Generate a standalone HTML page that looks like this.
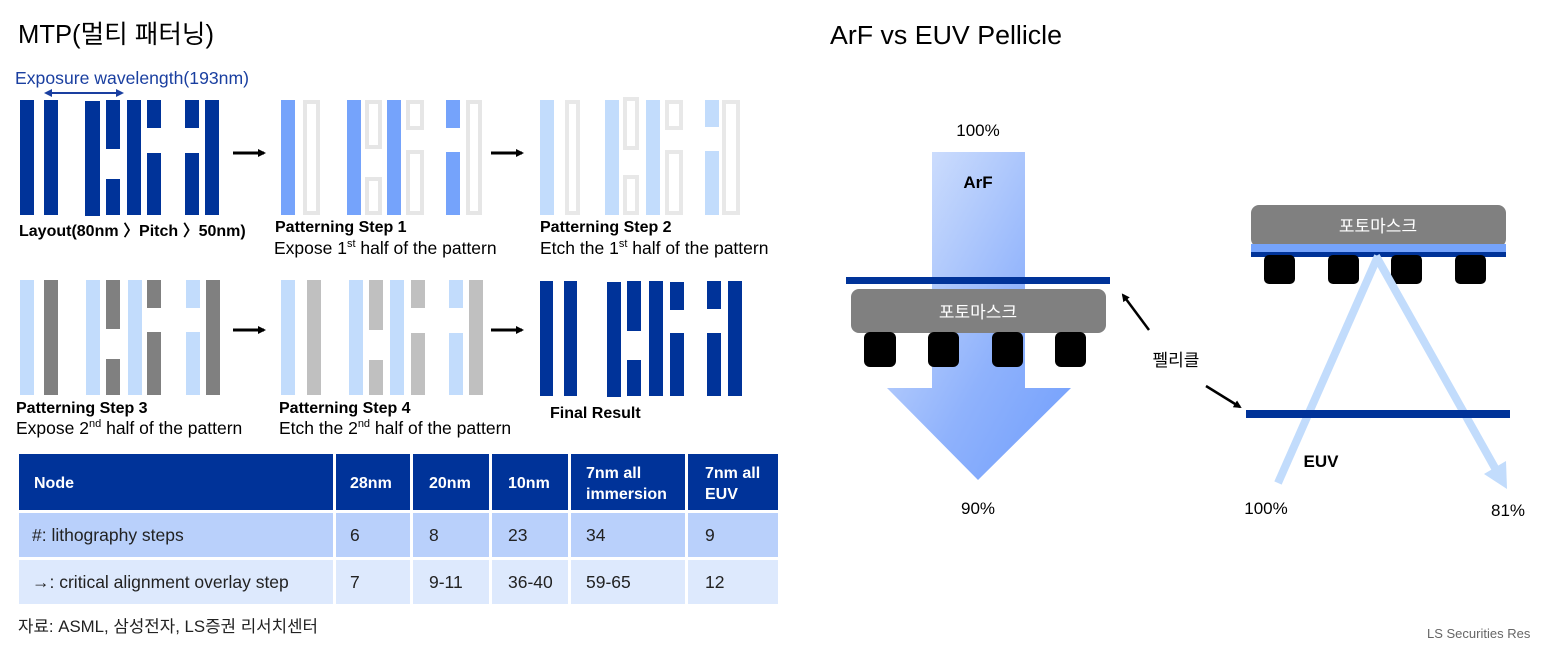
<!DOCTYPE html>
<html><head><meta charset="utf-8"><style>
html,body{margin:0;padding:0;background:#fff;width:1542px;height:654px;overflow:hidden}
svg{display:block;font-family:"Liberation Sans","Noto Sans CJK KR",sans-serif}
</style></head><body>
<svg width="1542" height="654" viewBox="0 0 1542 654" xmlns="http://www.w3.org/2000/svg">
<defs>
<linearGradient id="g1" x1="0" y1="0" x2="1" y2="1">
<stop offset="0" stop-color="#dbe7fd"/><stop offset="0.6" stop-color="#8fb2fc"/><stop offset="1" stop-color="#6f9dfc"/>
</linearGradient>
<marker id="ah" markerWidth="8" markerHeight="8" refX="6" refY="4" orient="auto" markerUnits="userSpaceOnUse"><path d="M0,0 L8,4 L0,8 z" fill="#000"/></marker>
</defs>
<text x="18" y="43" font-size="25.5" fill="#000" textLength="196" lengthAdjust="spacingAndGlyphs">MTP(멀티 패터닝)</text>
<text x="830" y="44" font-size="25.5" fill="#000" textLength="232" lengthAdjust="spacingAndGlyphs">ArF vs EUV Pellicle</text>
<text x="15" y="84" font-size="17.5" fill="#1a3fa0" textLength="234" lengthAdjust="spacingAndGlyphs">Exposure wavelength(193nm)</text>
<line x1="48" y1="93" x2="120" y2="93" stroke="#1a3fa0" stroke-width="2"/>
<path d="M44,93 L52,89 L52,97z M124,93 L116,89 L116,97z" fill="#1a3fa0"/>
<!-- Layout -->
<g fill="#003399">
<rect x="20" y="100" width="14" height="115"/><rect x="44" y="100" width="14" height="115"/>
<rect x="85" y="101" width="15" height="115"/>
<rect x="106" y="100" width="14" height="49"/><rect x="106" y="179" width="14" height="36"/>
<rect x="127" y="100" width="14" height="115"/>
<rect x="147" y="100" width="14" height="28"/><rect x="147" y="153" width="14" height="62"/>
<rect x="185" y="100" width="14" height="28"/><rect x="185" y="153" width="14" height="62"/>
<rect x="205" y="100" width="14" height="115"/>
</g>
<text x="19" y="236" font-size="16" font-weight="bold">Layout(80nm 〉Pitch 〉50nm)</text>
<g stroke="#000" stroke-width="3" marker-end="url(#ah)">
<line x1="233" y1="153" x2="264" y2="153"/><line x1="491" y1="153" x2="522" y2="153"/>
<line x1="233" y1="330" x2="264" y2="330"/><line x1="491" y1="330" x2="522" y2="330"/>
</g>
<!-- Step1 -->
<g fill="#75a3fb">
<rect x="281" y="100" width="14" height="115"/><rect x="347" y="100" width="14" height="115"/>
<rect x="387" y="100" width="14" height="115"/>
<rect x="446" y="100" width="14" height="28"/><rect x="446" y="152" width="14" height="63"/>
</g>
<g fill="none" stroke="#e6e6e6" stroke-width="4">
<rect x="305" y="102" width="13" height="111"/>
<rect x="367" y="102" width="13" height="45"/><rect x="367" y="179" width="13" height="34"/>
<rect x="408" y="102" width="14" height="26"/><rect x="408" y="152" width="14" height="61"/>
<rect x="468" y="102" width="12" height="111"/>
</g>
<text x="275" y="232" font-size="16" font-weight="bold">Patterning Step 1</text>
<text x="274" y="254" font-size="17.5">Expose 1<tspan font-size="11" dy="-7">st</tspan><tspan dy="7"> half of the pattern</tspan></text>
<!-- Step2 -->
<g fill="#c2dcfc">
<rect x="540" y="100" width="14" height="115"/><rect x="605" y="100" width="14" height="115"/>
<rect x="646" y="100" width="14" height="115"/>
<rect x="705" y="100" width="14" height="27"/><rect x="705" y="151" width="14" height="64"/>
</g>
<g fill="none" stroke="#e8e8e8" stroke-width="4">
<rect x="567" y="102" width="11" height="111"/>
<rect x="625" y="99" width="12" height="49"/><rect x="625" y="177" width="12" height="36"/>
<rect x="667" y="102" width="14" height="26"/><rect x="667" y="152" width="14" height="61"/>
<rect x="724" y="102" width="14" height="111"/>
</g>
<text x="540" y="232" font-size="16" font-weight="bold">Patterning Step 2</text>
<text x="540" y="254" font-size="17.5">Etch the 1<tspan font-size="11" dy="-7">st</tspan><tspan dy="7"> half of the pattern</tspan></text>
<!-- Step3 -->
<g fill="#c2dcfc">
<rect x="20" y="280" width="14" height="115"/><rect x="86" y="280" width="14" height="115"/>
<rect x="128" y="280" width="14" height="115"/>
<rect x="186" y="280" width="14" height="28"/><rect x="186" y="332" width="14" height="63"/>
</g>
<g fill="#808080">
<rect x="44" y="280" width="14" height="115"/>
<rect x="106" y="280" width="14" height="49"/><rect x="106" y="359" width="14" height="36"/>
<rect x="147" y="280" width="14" height="28"/><rect x="147" y="332" width="14" height="63"/>
<rect x="206" y="280" width="14" height="115"/>
</g>
<text x="16" y="413" font-size="16" font-weight="bold">Patterning Step 3</text>
<text x="16" y="434" font-size="17.5">Expose 2<tspan font-size="11" dy="-7">nd</tspan><tspan dy="7"> half of the pattern</tspan></text>
<!-- Step4 -->
<g fill="#c2dcfc">
<rect x="281" y="280" width="14" height="115"/><rect x="349" y="280" width="14" height="115"/>
<rect x="390" y="280" width="14" height="115"/>
<rect x="449" y="280" width="14" height="28"/><rect x="449" y="333" width="14" height="62"/>
</g>
<g fill="#c0c0c0">
<rect x="307" y="280" width="14" height="115"/>
<rect x="369" y="280" width="14" height="50"/><rect x="369" y="360" width="14" height="35"/>
<rect x="411" y="280" width="14" height="28"/><rect x="411" y="333" width="14" height="62"/>
<rect x="469" y="280" width="14" height="115"/>
</g>
<text x="279" y="413" font-size="16" font-weight="bold">Patterning Step 4</text>
<text x="279" y="434" font-size="17.5">Etch the 2<tspan font-size="11" dy="-7">nd</tspan><tspan dy="7"> half of the pattern</tspan></text>
<!-- Final -->
<g fill="#003399">
<rect x="540" y="281" width="13" height="115"/><rect x="564" y="281" width="13" height="115"/>
<rect x="607" y="282" width="14" height="115"/>
<rect x="627" y="281" width="14" height="50"/><rect x="627" y="360" width="14" height="36"/>
<rect x="649" y="281" width="14" height="115"/>
<rect x="670" y="282" width="14" height="28"/><rect x="670" y="333" width="14" height="63"/>
<rect x="707" y="281" width="14" height="28"/><rect x="707" y="333" width="14" height="63"/>
<rect x="728" y="281" width="14" height="115"/>
</g>
<text x="550" y="418" font-size="16" font-weight="bold">Final Result</text>
<!-- Table -->
<g fill="#003399">
<rect x="19" y="454" width="314" height="56"/><rect x="336" y="454" width="74" height="56"/>
<rect x="413" y="454" width="76" height="56"/><rect x="492" y="454" width="76" height="56"/>
<rect x="571" y="454" width="114" height="56"/><rect x="688" y="454" width="90" height="56"/>
</g>
<g fill="#b9d0fb">
<rect x="19" y="513" width="314" height="44"/><rect x="336" y="513" width="74" height="44"/>
<rect x="413" y="513" width="76" height="44"/><rect x="492" y="513" width="76" height="44"/>
<rect x="571" y="513" width="114" height="44"/><rect x="688" y="513" width="90" height="44"/>
</g>
<g fill="#dde9fd">
<rect x="19" y="560" width="314" height="44"/><rect x="336" y="560" width="74" height="44"/>
<rect x="413" y="560" width="76" height="44"/><rect x="492" y="560" width="76" height="44"/>
<rect x="571" y="560" width="114" height="44"/><rect x="688" y="560" width="90" height="44"/>
</g>
<g fill="#fff" font-size="16" font-weight="bold">
<text x="34" y="488">Node</text><text x="350" y="488">28nm</text><text x="429" y="488">20nm</text>
<text x="508" y="488">10nm</text><text x="586" y="478">7nm all</text><text x="586" y="499">immersion</text>
<text x="705" y="478">7nm all</text><text x="705" y="499">EUV</text>
</g>
<g fill="#222" font-size="17.5">
<text x="32" y="541">#: lithography steps</text><text x="350" y="541">6</text><text x="429" y="541">8</text>
<text x="508" y="541">23</text><text x="586" y="541">34</text><text x="705" y="541">9</text>
<text x="32" y="588">→:  critical alignment overlay step</text><text x="350" y="588">7</text><text x="429" y="588">9-11</text>
<text x="508" y="588">36-40</text><text x="586" y="588">59-65</text><text x="705" y="588">12</text>
</g>
<text x="18" y="632" font-size="16.5" fill="#222" textLength="300" lengthAdjust="spacingAndGlyphs">자료: ASML, 삼성전자, LS증권 리서치센터</text>
<text x="1427" y="638" font-size="13" fill="#666">LS Securities  Res</text>
<!-- ArF -->
<text x="978" y="136" font-size="17" text-anchor="middle">100%</text>
<path d="M932,152 L1025,152 L1025,388 L1071,388 L978,480 L887,388 L932,388z" fill="url(#g1)"/>
<text x="978" y="188" font-size="17" font-weight="bold" text-anchor="middle">ArF</text>
<rect x="846" y="277" width="264" height="7" fill="#003399"/>
<rect x="851" y="289" width="255" height="44" rx="8" fill="#808080"/>
<text x="978" y="318" font-size="17" fill="#fff" text-anchor="middle">포토마스크</text>
<g fill="#000">
<rect x="864" y="332" width="32" height="35" rx="6"/><rect x="928" y="332" width="31" height="35" rx="6"/>
<rect x="992" y="332" width="31" height="35" rx="6"/><rect x="1055" y="332" width="31" height="35" rx="6"/>
</g>
<text x="978" y="514" font-size="17" text-anchor="middle">90%</text>
<!-- EUV -->
<rect x="1251" y="205" width="255" height="42" rx="8" fill="#808080"/>
<text x="1378" y="232" font-size="17" fill="#fff" text-anchor="middle">포토마스크</text>
<rect x="1251" y="244" width="255" height="8" fill="#75a3fb"/>
<rect x="1251" y="252" width="255" height="5" fill="#003399"/>
<g fill="#000">
<rect x="1264" y="255" width="31" height="29" rx="5"/><rect x="1328" y="255" width="31" height="29" rx="5"/>
<rect x="1391" y="255" width="31" height="29" rx="5"/><rect x="1455" y="255" width="31" height="29" rx="5"/>
</g>
<g stroke="#c2dcfc" stroke-width="8" fill="none">
<line x1="1378" y1="256" x2="1278" y2="483"/>
<line x1="1376" y1="256" x2="1495" y2="468"/>
</g>
<path d="M1507,489 L1484,474 L1506,461z" fill="#c2dcfc"/>
<rect x="1246" y="410" width="264" height="8" fill="#003399"/>
<g stroke="#000" stroke-width="2.5" marker-end="url(#ah)">
<line x1="1149" y1="330" x2="1123" y2="295"/>
<line x1="1206" y1="386" x2="1240" y2="407"/>
</g>
<text x="1176" y="366" font-size="17" text-anchor="middle">펠리클</text>
<text x="1321" y="467" font-size="17" font-weight="bold" text-anchor="middle">EUV</text>
<text x="1266" y="514" font-size="17" text-anchor="middle">100%</text>
<text x="1508" y="516" font-size="17" text-anchor="middle">81%</text>
</svg>
</body></html>
